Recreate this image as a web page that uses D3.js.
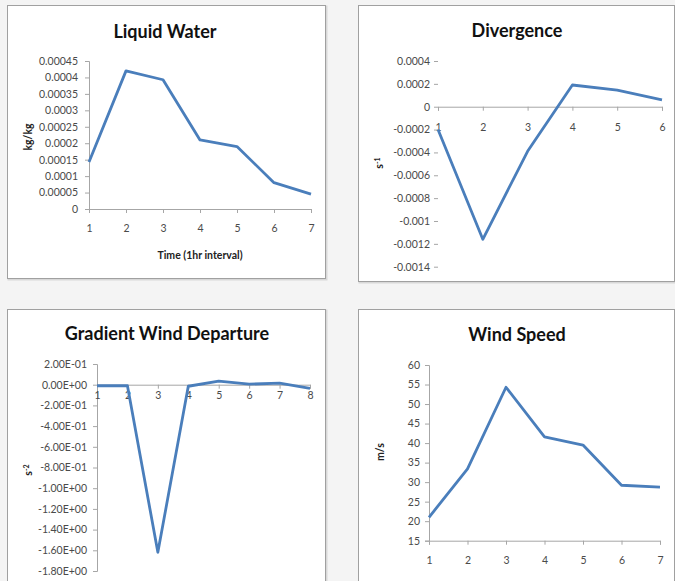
<!DOCTYPE html>
<html><head><meta charset="utf-8">
<script src="https://cdn.jsdelivr.net/npm/d3@7"></script>
<style>
html,body{margin:0;padding:0;background:#f4f4f4;}
svg{display:block;}
text{font-family:Lato,"Open Sans",sans-serif;}
</style></head>
<body>
<script>
// ---- data ----
const lwHours = [1,2,3,4,5,6,7];
const liquidWater = [0.000143, 0.00042, 0.000393, 0.00021, 0.00019, 0.00008, 0.000045];
const lwYTicks = [0,0.00005,0.0001,0.00015,0.0002,0.00025,0.0003,0.00035,0.0004,0.00045];
const lwYLabels = ["0","0.00005","0.0001","0.00015","0.0002","0.00025","0.0003","0.00035","0.0004","0.00045"];

const divHours = [1,2,3,4,5,6];
const divergence = [-0.0002, -0.00116, -0.00039, 0.00019, 0.000145, 0.00006];
const divYTicks = [0.0004,0.0002,0,-0.0002,-0.0004,-0.0006,-0.0008,-0.001,-0.0012,-0.0014];
const divYLabels = ["0.0004","0.0002","0","-0.0002","-0.0004","-0.0006","-0.0008","-0.001","-0.0012","-0.0014"];

const gwdHours = [1,2,3,4,5,6,7,8];
const gradientWindDeparture = [-0.01, -0.01, -1.62, -0.015, 0.035, 0.005, 0.015, -0.035];
const gwdYTicks = [0.2,0,-0.2,-0.4,-0.6,-0.8,-1.0,-1.2,-1.4,-1.6,-1.8];
const gwdYLabels = ["2.00E-01","0.00E+00","-2.00E-01","-4.00E-01","-6.00E-01","-8.00E-01","-1.00E+00","-1.20E+00","-1.40E+00","-1.60E+00","-1.80E+00"];

const wsHours = [1,2,3,4,5,6,7];
const windSpeed = [21, 33.4, 54.3, 41.6, 39.5, 29.2, 28.7];
const wsYTicks = [15,20,25,30,35,40,45,50,55,60];
const wsYLabels = ["15","20","25","30","35","40","45","50","55","60"];

// ---- drawing ----
const W = 675, H = 581;
const svg = d3.select("body").append("svg").attr("width", W).attr("height", H);
svg.append("rect").attr("width", W).attr("height", H).attr("fill", "#f4f4f4");

const panels = [
  {box:[7,5,318,273], title:"Liquid Water", tx:165, ty:32, xs:lwHours, ys:liquidWater,
   xr:[89,311], yd:[0,0.00045], yr:[209,61], yt:lwYTicks, yl:lwYLabels, axisAt:0, yLine:true, ypad:7,
   xLabelDy:22, ylab:"kg/kg", ylx:28, yly:137, xlab:"Time (1hr interval)", xlx:200, xly:255},
  {box:[358,5,316,276], title:"Divergence", tx:517, ty:31, xs:divHours, ys:divergence,
   xr:[438,662], yd:[-0.0014,0.0004], yr:[266.7,61], yt:divYTicks, yl:divYLabels, axisAt:0, yLine:false, ypad:4,
   xLabelDy:23, ylab:"s", sup:"-1", ylx:379, yly:163},
  {box:[7,309,318,290], title:"Gradient Wind Departure", tx:167, ty:334, xs:gwdHours, ys:gradientWindDeparture,
   xr:[97,310], yd:[-1.8,0.2], yr:[571,364], yt:gwdYTicks, yl:gwdYLabels, axisAt:0, yLine:true, ypad:6,
   xLabelDy:13, ylab:"s", sup:"-2", ylx:28, yly:470},
  {box:[358,309,316,290], title:"Wind Speed", tx:517, ty:335, xs:wsHours, ys:windSpeed,
   xr:[429,660], yd:[15,60], yr:[540.7,365], yt:wsYTicks, yl:wsYLabels, axisAt:15, yLine:true, ypad:5,
   xLabelDy:22, ylab:"m/s", ylx:380, yly:452}
];

const axisCol = "#a6a6a6", labCol = "#4a4a4a", lineCol = "#4a7ebb";

panels.forEach(p => {
  const g = svg.append("g");
  g.append("rect").attr("x", p.box[0]+1.5).attr("y", p.box[1]+1.5).attr("width", p.box[2]).attr("height", p.box[3])
    .attr("fill", "none").attr("stroke", "#d8d8d8").attr("stroke-width", 2);
  g.append("rect").attr("x", p.box[0]+0.5).attr("y", p.box[1]+0.5).attr("width", p.box[2]).attr("height", p.box[3])
    .attr("fill", "#ffffff").attr("stroke", "#a0a0a0").attr("stroke-width", 1);

  const x = d3.scaleLinear().domain([p.xs[0], p.xs[p.xs.length-1]]).range(p.xr);
  const y = d3.scaleLinear().domain(p.yd).range(p.yr);
  const y0 = y(p.axisAt);

  // y axis
  const yAxis = d3.axisLeft(y).tickValues(p.yt).tickSize(4).tickPadding(p.ypad)
    .tickFormat((d,i) => p.yl[i]);
  const ya = g.append("g").attr("transform", `translate(${p.xr[0]},0)`).call(yAxis);
  ya.select(".domain").attr("stroke", p.yLine ? axisCol : "none");
  ya.selectAll(".tick line").attr("stroke", axisCol);
  ya.selectAll(".tick text").attr("fill", labCol).attr("font-size", 10.5).attr("font-family", "Lato,sans-serif");

  // x axis
  const xAxis = d3.axisBottom(x).tickValues(p.xs).tickSize(4).tickPadding(p.xLabelDy - 4 - 6)
    .tickFormat(d3.format("d"));
  const xa = g.append("g").attr("transform", `translate(0,${y0})`).call(xAxis);
  xa.select(".domain").attr("stroke", axisCol);
  xa.selectAll(".tick line").attr("stroke", axisCol);
  xa.selectAll(".tick text").attr("fill", labCol).attr("font-size", 10.5).attr("font-family", "Lato,sans-serif");

  // line
  const line = d3.line().x((d,i) => x(p.xs[i])).y(d => y(d));
  g.append("path").datum(p.ys).attr("d", line).attr("fill", "none")
    .attr("stroke", lineCol).attr("stroke-width", 2.8).attr("stroke-linejoin", "round");

  // title
  g.append("text").attr("x", p.tx).attr("y", p.ty).attr("text-anchor", "middle").attr("dy", "0.35em")
    .attr("font-size", 18).attr("font-weight", "bold").attr("fill", "#111").text(p.title);

  // y axis title
  const yt = g.append("text").attr("transform", `translate(${p.ylx},${p.yly}) rotate(-90)`)
    .attr("text-anchor", "middle").attr("dy", "0.35em").attr("font-size", 10.5).attr("font-weight", "bold").attr("fill", "#222");
  yt.append("tspan").text(p.ylab);
  if (p.sup) yt.append("tspan").attr("dy", "-0.45em").attr("font-size", 7).text(p.sup);

  if (p.xlab) {
    g.append("text").attr("x", p.xlx).attr("y", p.xly).attr("text-anchor", "middle").attr("dy", "0.35em")
      .attr("font-size", 10.5).attr("font-weight", "bold").attr("fill", "#222").text(p.xlab);
  }
});
</script>
</body></html>
